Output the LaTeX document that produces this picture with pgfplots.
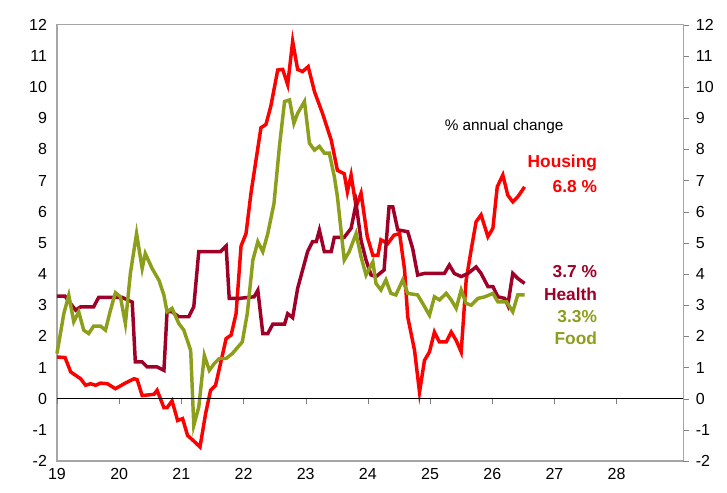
\documentclass[border=0pt]{standalone}
\usepackage{pgfplots}
\pgfplotsset{compat=1.18}
\usepackage{fontspec}
\setmainfont{Liberation Sans}
\definecolor{hous}{HTML}{FF0000}
\definecolor{hlth}{HTML}{A00028}
\definecolor{food}{HTML}{8C9E1A}
\begin{document}
\begin{tikzpicture}
\pgfplotsset{every axis/.append style={scale only axis, width=469.5pt, height=327pt, xmin=19, xmax=29.07, ymin=-2, ymax=12, clip=false,
 tick label style={font=\fontsize{12}{14}\selectfont}, /pgf/number format/assume math mode=true}}
\begin{axis}[axis line style={gray!70, line width=0.8pt}, xtick={19,...,28}, ytick={-2,...,12},
 major tick length=0pt, xticklabel style={yshift=-2pt}, yticklabel style={xshift=-4pt},
 ytick style={draw=none}, xtick style={draw=none}]
\path (rel axis cs:-0.091,-0.073) rectangle (rel axis cs:1.070,1.057);
\addplot[hous, line width=2.6pt] coordinates {(19.00,1.34)(19.13,1.32)(19.22,0.86)(19.38,0.64)(19.46,0.43)(19.54,0.48)(19.62,0.43)(19.70,0.5)(19.81,0.48)(19.94,0.32)(20.08,0.48)(20.24,0.64)(20.29,0.61)(20.37,0.1)(20.56,0.14)(20.61,0.27)(20.72,-0.29)(20.77,-0.29)(20.85,-0.07)(20.94,-0.7)(21.02,-0.64)(21.10,-1.18)(21.20,-1.36)(21.30,-1.55)(21.39,-0.48)(21.47,0.27)(21.55,0.43)(21.63,1.13)(21.72,1.93)(21.80,2.04)(21.88,2.73)(21.96,4.9)(22.04,5.3)(22.12,6.6)(22.28,8.7)(22.36,8.8)(22.44,9.4)(22.55,10.55)(22.63,10.57)(22.71,10.08)(22.79,11.47)(22.87,10.57)(22.95,10.5)(23.04,10.66)(23.14,9.86)(23.27,9.16)(23.41,8.3)(23.51,7.33)(23.62,7.22)(23.67,6.64)(23.73,7.18)(23.81,6.16)(23.89,6.6)(23.99,5.2)(24.08,4.6)(24.16,4.6)(24.21,5.1)(24.32,4.98)(24.42,5.25)(24.51,5.3)(24.59,4.13)(24.64,2.63)(24.75,1.55)(24.83,0.21)(24.91,1.23)(24.99,1.5)(25.07,2.14)(25.15,1.82)(25.26,1.82)(25.34,2.14)(25.42,1.87)(25.5,1.5)(25.58,3.8)(25.66,4.77)(25.74,5.68)(25.82,5.9)(25.93,5.2)(26.01,5.47)(26.08,6.8)(26.17,7.18)(26.25,6.53)(26.33,6.32)(26.41,6.48)(26.52,6.8)};
\addplot[hlth, line width=2.6pt] coordinates {(19.00,3.29)(19.13,3.29)(19.22,3.05)(19.30,2.84)(19.38,2.95)(19.59,2.95)(19.67,3.25)(20.05,3.25)(20.21,3.1)(20.26,1.18)(20.37,1.18)(20.45,1.02)(20.61,1.02)(20.72,0.91)(20.77,2.79)(20.85,2.79)(20.96,2.63)(21.12,2.63)(21.20,2.95)(21.28,4.72)(21.63,4.72)(21.72,4.9)(21.77,3.22)(21.93,3.22)(22.17,3.27)(22.23,3.48)(22.31,2.09)(22.39,2.09)(22.47,2.39)(22.66,2.39)(22.71,2.73)(22.79,2.6)(22.87,3.54)(23.03,4.72)(23.11,5.04)(23.17,5.04)(23.22,5.41)(23.30,4.72)(23.41,4.72)(23.46,5.18)(23.62,5.18)(23.73,5.47)(23.81,6.26)(23.89,5.08)(23.97,4.45)(24.05,3.97)(24.13,3.92)(24.26,4.13)(24.34,6.16)(24.40,6.16)(24.48,5.42)(24.64,5.36)(24.72,4.82)(24.8,3.97)(24.91,4.02)(25.02,4.02)(25.23,4.02)(25.31,4.29)(25.39,4.02)(25.5,3.92)(25.61,4.02)(25.74,4.23)(25.82,4.02)(25.93,3.6)(26.01,3.6)(26.09,3.27)(26.2,3.22)(26.25,3.0)(26.33,4.02)(26.41,3.86)(26.52,3.7)};
\addplot[food, line width=2.6pt] coordinates {(19.00,1.45)(19.11,2.73)(19.19,3.32)(19.27,2.47)(19.35,2.79)(19.43,2.2)(19.51,2.09)(19.59,2.33)(19.70,2.33)(19.78,2.2)(19.86,2.84)(19.94,3.4)(20.02,3.27)(20.10,2.41)(20.18,4.02)(20.28,5.3)(20.37,4.18)(20.42,4.66)(20.53,4.18)(20.64,3.8)(20.72,3.32)(20.77,2.79)(20.85,2.9)(20.96,2.41)(21.04,2.2)(21.15,1.55)(21.20,-0.86)(21.28,-0.27)(21.37,1.39)(21.45,0.91)(21.53,1.13)(21.61,1.29)(21.72,1.29)(21.82,1.45)(21.98,1.82)(22.06,2.73)(22.15,4.45)(22.23,5.04)(22.31,4.72)(22.39,5.3)(22.49,6.27)(22.58,8.15)(22.66,9.54)(22.74,9.59)(22.81,8.84)(22.87,9.16)(22.98,9.54)(23.06,8.2)(23.14,7.98)(23.22,8.1)(23.30,7.88)(23.38,7.88)(23.46,7.13)(23.51,6.48)(23.62,4.45)(23.7,4.72)(23.81,5.3)(23.89,4.55)(23.97,3.97)(24.08,4.39)(24.13,3.7)(24.21,3.49)(24.29,3.81)(24.37,3.38)(24.45,3.33)(24.56,3.81)(24.64,3.38)(24.80,3.33)(24.88,3.06)(24.99,2.68)(25.07,3.27)(25.15,3.17)(25.26,3.38)(25.34,3.17)(25.42,2.9)(25.5,3.49)(25.58,3.06)(25.66,3.0)(25.77,3.22)(25.88,3.27)(26.01,3.38)(26.09,3.11)(26.23,3.11)(26.33,2.79)(26.41,3.33)(26.52,3.33)};
\node[font=\fontsize{11.5}{13}\selectfont] at (axis cs:26.19,8.75) {\% annual change};
\begin{scope}[every node/.style={anchor=east, font=\bfseries\fontsize{13}{15}\selectfont}]
\node[text=hous] at (axis cs:27.76,7.55) {Housing};
\node[text=hous] at (axis cs:27.76,6.82) {6.8 \%};
\node[text=hlth] at (axis cs:27.76,4.08) {3.7 \%};
\node[text=hlth] at (axis cs:27.76,3.34) {Health};
\node[text=food] at (axis cs:27.76,2.64) {3.3\%};
\node[text=food] at (axis cs:27.76,1.93) {Food};
\end{scope}
\end{axis}
\begin{axis}[axis x line=middle, axis y line*=right, axis line style={black, line width=0.6pt}, xtick={19,...,28}, xticklabels={},
 ytick={-2,...,12}, tick align=outside, major tick length=4pt, yticklabel style={xshift=2pt}, x axis line style={-}, y axis line style={gray!70, line width=0.8pt}]
\end{axis}
\end{tikzpicture}
\end{document}
